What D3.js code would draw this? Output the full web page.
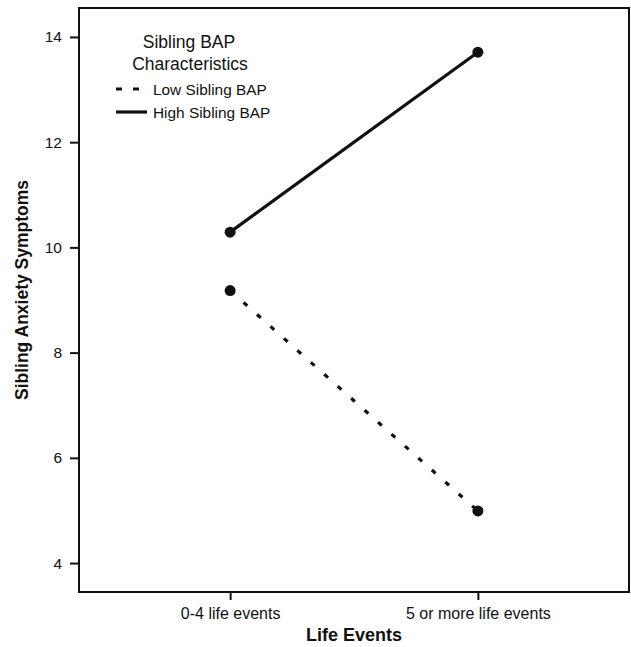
<!DOCTYPE html>
<html>
<head>
<meta charset="utf-8">
<script src="https://cdn.jsdelivr.net/npm/d3@7"></script>
<style>
  body { margin: 0; background: #fff; }
  svg { display: block; font-family: "Liberation Sans", Arial, sans-serif; }
</style>
</head>
<body>
<svg id="chart" width="631" height="647"></svg>
<script>
// Data
const categories = ['0-4 life events', '5 or more life events'];
const lowSiblingBAP = [9.18, 4.99];
const highSiblingBAP = [10.29, 13.71];
const yTicks = [4, 6, 8, 10, 12, 14];

const series = [
    { name: 'Low Sibling BAP', values: lowSiblingBAP, dash: '5,13' },
    { name: 'High Sibling BAP', values: highSiblingBAP, dash: null }
];

const svg = d3.select('#chart');
const plotLeft = 79, plotRight = 629, plotTop = 8, plotBottom = 592;

// Scales
const x = d3.scalePoint()
    .domain(categories)
    .range([plotLeft, plotRight])
    .padding(0.61);

const y = d3.scaleLinear()
    .domain([3.45, 14.55])
    .range([plotBottom, plotTop]);

// Frame
svg.append('rect')
    .attr('x', plotLeft)
    .attr('y', plotTop)
    .attr('width', plotRight - plotLeft)
    .attr('height', plotBottom - plotTop)
    .attr('fill', 'none')
    .attr('stroke', '#111')
    .attr('stroke-width', 2);

// Y axis
const yAxis = svg.append('g')
    .attr('transform', `translate(${plotLeft},0)`)
    .call(d3.axisLeft(y).tickValues(yTicks).tickSize(9).tickPadding(8));
yAxis.select('.domain').remove();
yAxis.selectAll('line').attr('stroke', '#111').attr('stroke-width', 2);
yAxis.selectAll('text').attr('font-size', 15.5).attr('fill', '#111')
    .attr('font-family', '"Liberation Sans", Arial, sans-serif');

// X axis
const xAxis = svg.append('g')
    .attr('transform', `translate(0,${plotBottom})`)
    .call(d3.axisBottom(x).tickSize(8).tickPadding(8));
xAxis.select('.domain').remove();
xAxis.selectAll('line').attr('stroke', '#111').attr('stroke-width', 2);
xAxis.selectAll('text').attr('font-size', 16).attr('fill', '#111')
    .attr('font-family', '"Liberation Sans", Arial, sans-serif');

// Axis titles
svg.append('text')
    .attr('x', (plotLeft + plotRight) / 2)
    .attr('y', 641)
    .attr('text-anchor', 'middle')
    .attr('font-size', 18)
    .attr('font-weight', 'bold')
    .attr('fill', '#111')
    .text('Life Events');

svg.append('text')
    .attr('transform', `translate(28,290) rotate(-90)`)
    .attr('text-anchor', 'middle')
    .attr('font-size', 17.5)
    .attr('font-weight', 'bold')
    .attr('fill', '#111')
    .text('Sibling Anxiety Symptoms');

// Lines and points
const line = d3.line()
    .x((d, i) => x(categories[i]))
    .y(d => y(d));

series.forEach(s => {
    svg.append('path')
        .datum(s.values)
        .attr('d', line)
        .attr('fill', 'none')
        .attr('stroke', '#111')
        .attr('stroke-width', 3.2)
        .attr('stroke-dasharray', s.dash);

    svg.selectAll(null)
        .data(s.values)
        .enter()
        .append('circle')
        .attr('cx', (d, i) => x(categories[i]))
        .attr('cy', d => y(d))
        .attr('r', 5.5)
        .attr('fill', '#111');
});

// Legend
const legend = svg.append('g');
legend.append('text')
    .attr('x', 189).attr('y', 48)
    .attr('text-anchor', 'middle')
    .attr('font-size', 17.5)
    .attr('fill', '#111')
    .text('Sibling BAP');
legend.append('text')
    .attr('x', 190).attr('y', 70)
    .attr('text-anchor', 'middle')
    .attr('font-size', 17.5)
    .attr('fill', '#111')
    .text('Characteristics');

series.forEach((s, i) => {
    const ly = 89 + i * 23;
    legend.append('line')
        .attr('x1', 116).attr('x2', 147)
        .attr('y1', ly).attr('y2', ly)
        .attr('stroke', '#111')
        .attr('stroke-width', 3.2)
        .attr('stroke-dasharray', s.dash ? '6,11' : null);
    legend.append('text')
        .attr('x', 153).attr('y', ly + 6)
        .attr('font-size', 15.4)
        .attr('fill', '#111')
        .text(s.name);
});
</script>
</body>
</html>
